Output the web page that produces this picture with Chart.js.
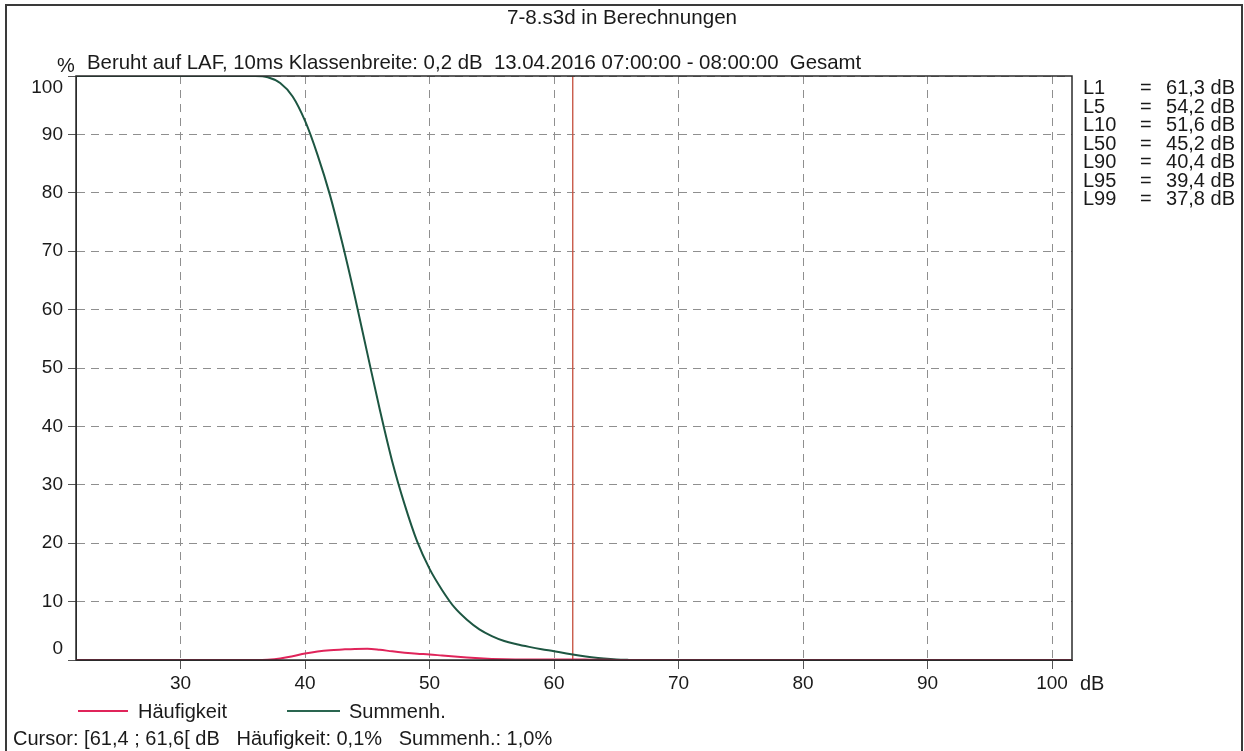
<!DOCTYPE html>
<html>
<head>
<meta charset="utf-8">
<script src="https://cdn.jsdelivr.net/npm/chart.js@4.4.1/dist/chart.umd.min.js"></script>
<style>
body { margin: 0; background: #fff; }
#page { position: relative; width: 1244px; height: 751px; overflow: hidden;
        font-family: "Liberation Sans", Arial, sans-serif; font-size: 20px; color: #1a1a1a; }
#frame { position: absolute; left: 5px; top: 4px; width: 1238px; height: 780px;
         border: 2px solid #3a3a3a; box-sizing: border-box; }
canvas { position: absolute; left: 0; top: 0; }
.t { position: absolute; white-space: pre; line-height: 22px; }
.line { position: absolute; height: 2px; }
</style>
</head>
<body>
<div id="page">
  <div id="frame"></div>
  <canvas id="myChart" width="1244" height="751"></canvas>
  <div class="t" style="left:0; width:1244px; text-align:center; top:6px; font-size:20.6px;">7-8.s3d in Berechnungen</div>
  <div class="t" style="left:57px; top:54px;">%</div>
  <div class="t" style="left:87px; top:51px; font-size:20.4px;">Beruht auf LAF, 10ms Klassenbreite: 0,2 dB  13.04.2016 07:00:00 - 08:00:00  Gesamt</div>
  <div id="stats"></div>
  <div class="t" style="left:1080px; top:672px;">dB</div>
  <div class="line" style="left:78px; width:50px; top:710px; background:#e0245a;"></div>
  <div class="t" style="left:138px; top:700px;">Häufigkeit</div>
  <div class="line" style="left:287px; width:53px; top:710px; background:#2a6650;"></div>
  <div class="t" style="left:349px; top:700px;">Summenh.</div>
  <div class="t" style="left:13px; top:727px;">Cursor: [61,4 ; 61,6[ dB   Häufigkeit: 0,1%   Summenh.: 1,0%</div>
</div>
<script>
// Werte (dB / %)
var summenDb  = [21.6, 35, 36, 37, 38, 39, 40, 41, 42, 43, 44, 45, 46, 47, 48, 49, 50, 51, 52, 53, 54, 55, 56, 57, 58, 59, 60, 61, 62, 63, 64, 65, 66, 67, 101.6];
var summenVal = [100, 100, 100, 99.8, 98.8, 96.5, 92.3, 86.5, 79.6, 71.3, 62.2, 52.5, 42.9, 34.0, 26.6, 20.3, 15.6, 12.0, 9.0, 6.9, 5.25, 4.1, 3.25, 2.7, 2.25, 1.85, 1.5, 1.12, 0.78, 0.48, 0.24, 0.08, 0.02, 0, 0];

var haeufDb  = [21.6, 35, 36, 37, 38, 39, 40, 41, 42, 43, 44, 45, 46, 47, 48, 49, 50, 51, 52, 53, 54, 55, 56, 57, 58, 59, 60, 61, 62, 63, 64, 65, 66, 101.6];
var haeufVal = [0, 0, 0, 0.05, 0.25, 0.65, 1.1, 1.45, 1.68, 1.8, 1.9, 1.93, 1.75, 1.48, 1.26, 1.08, 0.95, 0.76, 0.58, 0.42, 0.28, 0.18, 0.12, 0.1, 0.09, 0.09, 0.09, 0.1, 0.08, 0.05, 0.03, 0.01, 0, 0];

var cursorDb = 61.5;
var xTicks = [30, 40, 50, 60, 70, 80, 90, 100];
var yTicks = [0, 10, 20, 30, 40, 50, 60, 70, 80, 90, 100];

var statLabels = ['L1', 'L5', 'L10', 'L50', 'L90', 'L95', 'L99'];
var statValues = ['61,3', '54,2', '51,6', '45,2', '40,4', '39,4', '37,8'];

// Statistik rechts
var stats = document.getElementById('stats');
statLabels.forEach((lab, i) => {
  var top = 76 + i * 18.5;
  stats.innerHTML += '<div class="t" style="left:1083px; top:' + top + 'px;">' + lab + '</div>' +
    '<div class="t" style="left:1140px; top:' + top + 'px;">=</div>' +
    '<div class="t" style="left:1160px; width:75px; text-align:right; top:' + top + 'px;">' + statValues[i] + ' dB</div>';
});

function toPoints(xs, ys) {
  return xs.map((x, i) => ({ x: x, y: ys[i] }));
}

// Rahmen um die Zeichenflaeche
var framePlugin = {
  id: 'frame',
  afterDraw(chart) {
    var a = chart.chartArea, ctx = chart.ctx;
    ctx.save();
    ctx.strokeStyle = '#2b2b2b';
    ctx.lineWidth = 1.5;
    ctx.strokeRect(a.left, a.top, a.right - a.left, a.bottom - a.top);
    ctx.restore();
  }
};

Chart.defaults.font.family = '"Liberation Sans", Arial, sans-serif';
Chart.defaults.font.size = 19;
Chart.defaults.color = '#1a1a1a';

new Chart('myChart', {
  type: 'line',
  data: {
    datasets: [{
      label: 'Häufigkeit',
      data: toPoints(haeufDb, haeufVal),
      borderColor: '#e0245a',
      borderWidth: 2,
      pointRadius: 0,
      cubicInterpolationMode: 'monotone',
      fill: false
    }, {
      label: 'Summenh.',
      data: toPoints(summenDb, summenVal),
      borderColor: '#1d5642',
      borderWidth: 2,
      pointRadius: 0,
      cubicInterpolationMode: 'monotone',
      fill: false
    }, {
      label: 'Cursor',
      data: [{ x: cursorDb, y: 0 }, { x: cursorDb, y: 100 }],
      borderColor: '#c44d3c',
      borderWidth: 1.3,
      pointRadius: 0,
      fill: false
    }]
  },
  options: {
    responsive: false,
    animation: false,
    layout: { padding: { left: 0, top: 76, right: 172, bottom: 51 } },
    plugins: { legend: { display: false }, tooltip: { enabled: false } },
    scales: {
      x: {
        type: 'linear',
        min: 21.6,
        max: 101.6,
        afterBuildTicks: (s) => { s.ticks = xTicks.map(v => ({ value: v })); },
        afterFit: (s) => { s.height = 40; },
        ticks: { padding: 3, maxRotation: 0 },
        grid: { color: '#8f8f8f', lineWidth: 1, tickLength: 9, tickColor: '#555', tickBorderDash: [] },
        border: { display: true, color: '#2b2b2b', dash: [8, 6] }
      },
      y: {
        min: 0,
        max: 100,
        afterBuildTicks: (s) => { s.ticks = yTicks.map(v => ({ value: v })); },
        afterFit: (s) => { s.width = 76; },
        ticks: {
          padding: 5,
          callback: (v) => {
            if (v === 0) return ['0', ''];
            if (v === 100) return ['', '100'];
            return v;
          }
        },
        grid: { color: '#8f8f8f', lineWidth: 1, tickLength: 8, tickColor: '#555', tickBorderDash: [] },
        border: { display: true, color: '#2b2b2b', dash: [8, 6] }
      }
    }
  },
  plugins: [framePlugin]
});
</script>
</body>
</html>
